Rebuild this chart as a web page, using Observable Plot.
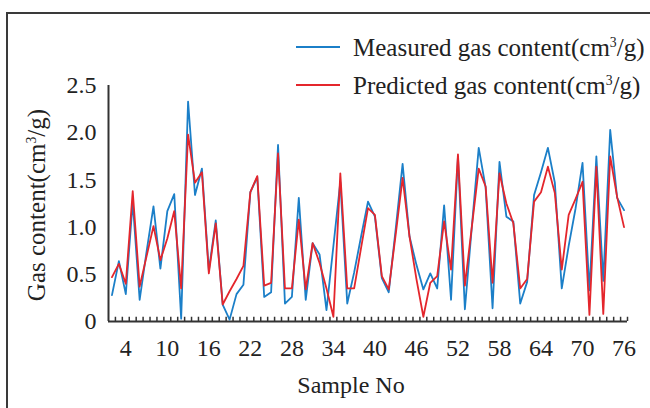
<!DOCTYPE html>
<html><head><meta charset="utf-8">
<script src="https://cdn.jsdelivr.net/npm/d3@7"></script>
<script src="https://cdn.jsdelivr.net/npm/@observablehq/plot@0.6"></script>
<style>
body{margin:0;background:#fff;}
#chart{position:relative;width:650px;height:408px;overflow:hidden;}
#chart svg text{font-family:"Liberation Serif","Times New Roman",serif !important;}
</style></head><body><div id="chart"></div>
<script>
// Sample numbers 2..76 (75 samples)
const sampleNo = d3.range(2, 77);
const measured = [0.28,0.64,0.29,1.27,0.23,0.74,1.22,0.56,1.17,1.35,
  0.03,2.33,1.34,1.62,0.54,1.07,0.18,0.02,0.29,0.39,
  1.37,1.53,0.26,0.31,1.87,0.19,0.26,1.31,0.23,0.83,
  0.71,0.12,0.80,1.48,0.19,0.52,0.90,1.27,1.11,0.46,
  0.31,0.98,1.67,0.90,0.60,0.34,0.51,0.35,1.23,0.23,
  1.75,0.13,1.00,1.84,1.42,0.14,1.69,1.11,1.06,0.19,
  0.42,1.34,1.58,1.84,1.47,0.35,0.80,1.20,1.68,0.33,
  1.75,0.43,2.03,1.31,1.18];
const predicted = [0.47,0.61,0.40,1.38,0.37,0.69,1.01,0.65,0.88,1.17,
  0.35,1.98,1.47,1.58,0.51,1.04,0.18,0.32,0.45,0.59,
  1.37,1.54,0.38,0.41,1.78,0.35,0.35,1.08,0.34,0.83,
  0.62,0.35,0.05,1.57,0.35,0.35,0.78,1.20,1.13,0.48,
  0.34,0.92,1.52,0.90,0.45,0.05,0.41,0.48,1.06,0.55,
  1.77,0.38,1.00,1.62,1.43,0.41,1.57,1.25,1.04,0.35,
  0.45,1.27,1.37,1.64,1.36,0.55,1.13,1.30,1.48,0.07,
  1.64,0.08,1.75,1.32,1.00];
const xTicks = [4,10,16,22,28,34,40,46,52,58,64,70,76];
const yTicks = [0,0.5,1,1.5,2,2.5];
const yTickLabels = ["0","0.5","1.0","1.5","2.0","2.5"];
const seriesNames = ["Measured gas content", "Predicted gas content"];
const colors = ["#1b7fc8", "#e4262c"];

const rowsM = sampleNo.map((s, i) => ({s, v: measured[i]}));
const rowsP = sampleNo.map((s, i) => ({s, v: predicted[i]}));
const bounds = d3.range(sampleNo[0] + 0.5, sampleNo[sampleNo.length - 1] + 1);
const xMin = sampleNo[0] - 0.5, xMax = sampleNo[sampleNo.length - 1] + 0.5;
const FONT = "'Liberation Serif', 'Times New Roman', serif";

const plot = Plot.plot({
  width: 650, height: 408,
  marginLeft: 108, marginRight: 23, marginTop: 85, marginBottom: 87,
  x: {domain: [xMin, xMax]},
  y: {domain: [0, 2.5]},
  style: {fontFamily: FONT, fontSize: "24px", color: "#222", background: "#fff"},
  marks: [
    Plot.axisX(xTicks, {tickSize: 0, tickPadding: 17, fontSize: 24, label: null, fill: "#222"}),
    Plot.axisY(yTicks, {tickSize: 0, tickPadding: 12, fontSize: 24, label: null, fill: "#222",
      tickFormat: d => yTickLabels[yTicks.indexOf(d)]}),
    Plot.ruleX(bounds, {y1: 0, y2: 0.045, stroke: "#333", strokeWidth: 1.5}),
    Plot.ruleY([0], {x1: xMin, x2: xMax, stroke: "#333", strokeWidth: 2}),
    Plot.ruleX([xMin], {y1: 0, y2: 2.5, stroke: "#333", strokeWidth: 2}),
    Plot.lineY(rowsM, {x: "s", y: "v", stroke: colors[0], strokeWidth: 1.8}),
    Plot.lineY(rowsP, {x: "s", y: "v", stroke: colors[1], strokeWidth: 1.8})
  ]
});
document.getElementById("chart").appendChild(plot);

const svg = d3.select(plot);
svg.append("rect").attr("x", 7).attr("y", 13).attr("width", 800).attr("height", 600)
  .attr("fill", "none").attr("stroke", "#3a3a3a").attr("stroke-width", 2);

function unitText(sel, name, fs) {
  sel.append("tspan").text(name + "(cm");
  sel.append("tspan").attr("dy", -fs * 0.38).attr("font-size", fs * 0.55).text("3");
  sel.append("tspan").attr("dy", fs * 0.38).text("/g)");
}
const legY = [47, 85];
seriesNames.forEach((n, i) => {
  svg.append("line").attr("x1", 296).attr("x2", 340).attr("y1", legY[i]).attr("y2", legY[i])
    .attr("stroke", colors[i]).attr("stroke-width", 2);
  const t = svg.append("text").attr("x", 353).attr("y", legY[i] + 9).attr("text-anchor", "start")
    .attr("font-family", FONT).attr("font-size", 25).attr("fill", "#222");
  unitText(t, n, 25);
});
const yt = svg.append("text").attr("transform", "translate(45,205) rotate(-90)")
  .attr("text-anchor", "middle").attr("font-family", FONT).attr("font-size", 25).attr("fill", "#222");
unitText(yt, "Gas content", 25);
svg.append("text").attr("x", 351).attr("y", 393).attr("text-anchor", "middle")
  .attr("font-family", FONT).attr("font-size", 24).attr("fill", "#222").text("Sample No");
</script></body></html>
